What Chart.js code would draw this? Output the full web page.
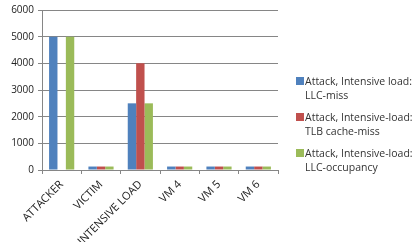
<!DOCTYPE html>
<html lang="en">

<head>
    <meta charset="UTF-8">
    <title>Attack chart</title>
    <style>
        body { margin: 0; background: #fff; }
        .wrap { position: relative; width: 415px; height: 242px; }
        #legend { position: absolute; left: 296px; top: 74px; font-family: "Open Sans", sans-serif; font-size: 10.5px; color: #333; }
        #legend div { position: relative; padding-left: 9px; line-height: 14px; margin-bottom: 8px; }
        #legend span { position: absolute; left: 0; top: 3px; width: 8px; height: 8px; }
    </style>
</head>

<body>
    <div class="wrap">
        <canvas id="myChart" width="415" height="242"></canvas>
        <div id="legend"></div>
    </div>

    <script src="https://cdn.jsdelivr.net/npm/chart.js"></script>
    <script>
        const categories = ['ATTACKER', 'VICTIM', 'INTENSIVE LOAD', 'VM 4', 'VM 5', 'VM 6'];
        const seriesNames = [
            ['Attack, Intensive load:', 'LLC-miss'],
            ['Attack, Intensive-load:', 'TLB cache-miss'],
            ['Attack, Intensive-load:', 'LLC-occupancy']
        ];
        const llcMiss = [5000, 130, 2500, 130, 130, 130];
        const tlbMiss = [0, 130, 4000, 130, 130, 130];
        const llcOccupancy = [5000, 130, 2500, 130, 130, 130];
        const yTicks = [0, 1000, 2000, 3000, 4000, 5000, 6000];
        const colors = ['#4F81BD', '#C0504D', '#9BBB59'];

        const seriesData = [llcMiss, tlbMiss, llcOccupancy];

        new Chart(document.getElementById('myChart'), {
            type: 'bar',
            data: {
                labels: categories,
                datasets: seriesData.map((d, i) => ({
                    label: seriesNames[i].join(' '),
                    data: d,
                    backgroundColor: colors[i],
                    barPercentage: 1.0,
                    categoryPercentage: 0.64
                }))
            },
            options: {
                responsive: false,
                animation: false,
                layout: { padding: { top: 3, right: 137, left: 0, bottom: 0 } },
                plugins: { legend: { display: false }, tooltip: { enabled: false } },
                scales: {
                    x: {
                        grid: { display: true, drawOnChartArea: false, color: '#868686', tickLength: 4, offset: true },
                        border: { color: '#868686' },
                        ticks: {
                            color: '#222',
                            font: { family: 'Open Sans', size: 11 },
                            maxRotation: 45, minRotation: 45, padding: 4
                        },
                        afterFit: (scale) => { scale.height = 72; }
                    },
                    y: {
                        min: 0, max: 6000,
                        afterBuildTicks: (scale) => { scale.ticks = yTicks.map(v => ({ value: v })); },
                        grid: { color: '#868686', tickLength: 4 },
                        border: { color: '#868686' },
                        ticks: {
                            color: '#222',
                            font: { family: 'Open Sans', size: 10 },
                            padding: 4,
                            callback: (v) => String(v)
                        },
                        afterFit: (scale) => { scale.width = 42; }
                    }
                }
            }
        });

        const legend = document.getElementById('legend');
        seriesNames.forEach((name, i) => {
            const item = document.createElement('div');
            item.innerHTML = '<span style="background:' + colors[i] + '"></span>' + name[0] + '<br>' + name[1];
            legend.appendChild(item);
        });
    </script>
</body>

</html>
